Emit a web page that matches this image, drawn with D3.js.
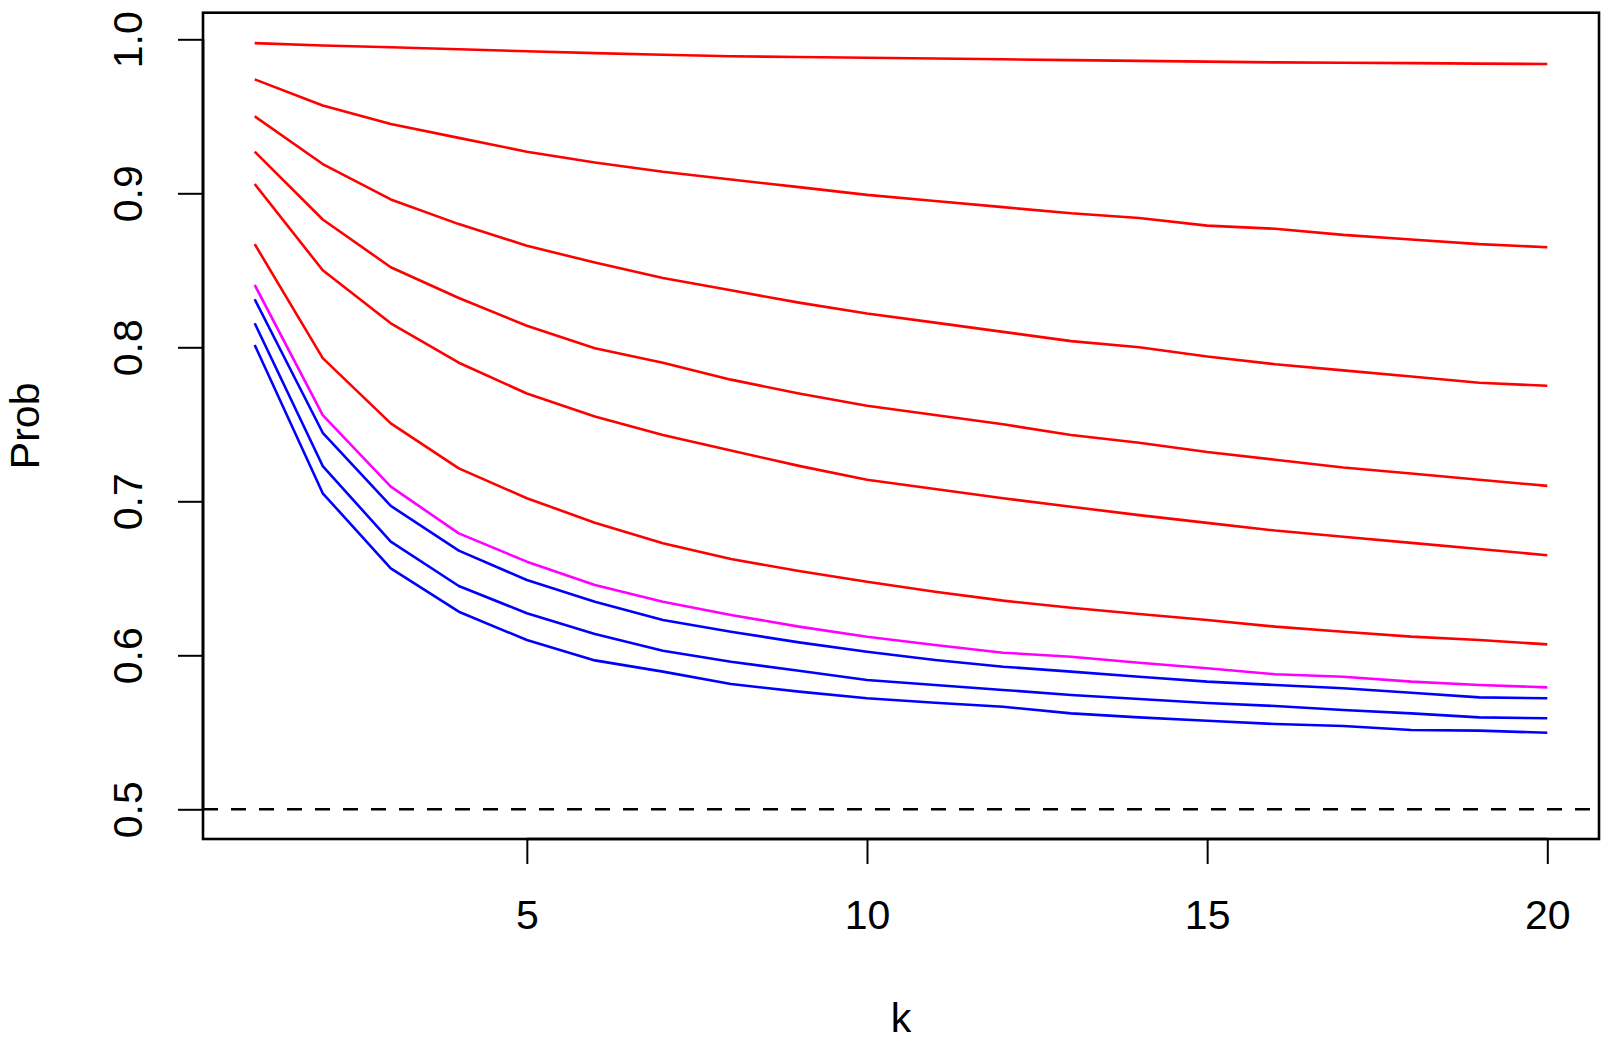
<!DOCTYPE html>
<html>
<head>
<meta charset="utf-8">
<script src="https://cdn.jsdelivr.net/npm/d3@7"></script>
<style>
  html, body { margin: 0; padding: 0; background: #fff; }
  svg { display: block; }
  text { font-family: "Liberation Sans", Arial, Helvetica, sans-serif; fill: #000; }
</style>
</head>
<body>
<svg id="chart" width="1620" height="1054"></svg>
<script>
// ---- data ----
const kValues = [1,2,3,4,5,6,7,8,9,10,11,12,13,14,15,16,17,18,19,20];
const xTicks = [5, 10, 15, 20];
const yTicks = [0.5, 0.6, 0.7, 0.8, 0.9, 1.0];
const yTickLabels = ["0.5", "0.6", "0.7", "0.8", "0.9", "1.0"];
const refLine = 0.5;
const xLabel = "k";
const yLabel = "Prob";

const red1 = [0.9975,0.996,0.9948,0.9935,0.9922,0.991,0.990,0.989,0.9885,0.988,0.9875,0.987,0.9865,0.986,0.9855,0.985,0.9848,0.9845,0.9842,0.984];
const red2 = [0.974,0.957,0.945,0.936,0.927,0.920,0.914,0.909,0.904,0.899,0.895,0.891,0.887,0.884,0.879,0.877,0.873,0.870,0.867,0.865];
const red3 = [0.950,0.919,0.896,0.880,0.866,0.855,0.845,0.837,0.829,0.822,0.816,0.810,0.804,0.800,0.794,0.789,0.785,0.781,0.777,0.775];
const red4 = [0.927,0.883,0.852,0.832,0.814,0.7994,0.790,0.779,0.770,0.762,0.756,0.750,0.743,0.738,0.732,0.727,0.722,0.718,0.714,0.710];
const red5 = [0.906,0.850,0.8156,0.790,0.770,0.755,0.743,0.733,0.723,0.714,0.708,0.702,0.6965,0.691,0.686,0.681,0.677,0.673,0.669,0.665];
const red6 = [0.867,0.793,0.7506,0.7214,0.702,0.6861,0.6727,0.6625,0.6547,0.6478,0.6413,0.6355,0.6309,0.6268,0.6229,0.6186,0.6153,0.6121,0.6099,0.6071];
const magenta1 = [0.8405,0.756,0.7095,0.6792,0.6608,0.6457,0.6348,0.6262,0.6186,0.6121,0.6067,0.6017,0.5991,0.5952,0.5916,0.5877,0.5861,0.5829,0.5807,0.5792];
const blue1 = [0.8312,0.7445,0.697,0.668,0.6489,0.6348,0.6229,0.6153,0.6084,0.6023,0.597,0.5926,0.5894,0.5861,0.5829,0.5807,0.5786,0.5757,0.5727,0.5721];
const blue2 = [0.8156,0.7229,0.6738,0.645,0.6273,0.6138,0.603,0.5958,0.590,0.584,0.5807,0.5775,0.5742,0.5716,0.569,0.5671,0.5645,0.5623,0.5597,0.5591];
const blue3 = [0.8015,0.7052,0.6565,0.6283,0.6099,0.5967,0.5894,0.5814,0.5764,0.5721,0.5692,0.5666,0.5623,0.5597,0.5575,0.5554,0.5541,0.5515,0.5511,0.5497];

const seriesList = [
  {values: red1, color: "#ff0000"},
  {values: red2, color: "#ff0000"},
  {values: red3, color: "#ff0000"},
  {values: red4, color: "#ff0000"},
  {values: red5, color: "#ff0000"},
  {values: red6, color: "#ff0000"},
  {values: magenta1, color: "#ff00ff"},
  {values: blue1, color: "#0000ff"},
  {values: blue2, color: "#0000ff"},
  {values: blue3, color: "#0000ff"}
];

// ---- layout ----
const box = {left: 203, right: 1599, top: 12.7, bottom: 839};
const svg = d3.select("#chart");

// R-style: 4% extension of data range on each side
const xMin = d3.min(kValues), xMax = d3.max(kValues);
const xPad = (xMax - xMin) * 0.04;
const x = d3.scaleLinear().domain([xMin - xPad, xMax + xPad]).range([box.left, box.right]);

const y = d3.scaleLinear().domain([0.5, 1.0]).range([809.3, 39.3]);

const line = d3.line().x((d, i) => x(kValues[i])).y(d => y(d));

// data lines
svg.append("g").selectAll("path").data(seriesList).join("path")
  .attr("d", s => line(s.values))
  .attr("fill", "none")
  .attr("stroke", s => s.color)
  .attr("stroke-width", 2.6)
  .attr("stroke-linejoin", "round");

// dashed reference line
svg.append("line")
  .attr("x1", box.left).attr("x2", box.right)
  .attr("y1", y(refLine)).attr("y2", y(refLine))
  .attr("stroke", "#000").attr("stroke-width", 2.6)
  .attr("stroke-dasharray", "15,13");

// box
svg.append("rect")
  .attr("x", box.left).attr("y", box.top)
  .attr("width", box.right - box.left).attr("height", box.bottom - box.top)
  .attr("fill", "none").attr("stroke", "#000").attr("stroke-width", 2.6);

// x axis
const xAxis = d3.axisBottom(x).tickValues(xTicks).tickSize(25).tickPadding(36).tickFormat(d3.format("d"));
const gx = svg.append("g").attr("transform", `translate(0,${box.bottom})`).call(xAxis);
gx.select(".domain")
  .attr("d", `M${x(xTicks[0])},0H${x(xTicks[xTicks.length-1])}`)
  .attr("stroke", "#000").attr("stroke-width", 2.6);
gx.selectAll(".tick line").attr("stroke", "#000").attr("stroke-width", 2);
gx.selectAll(".tick text").attr("font-size", 41).attr("fill", "#000")
  .attr("font-family", "Liberation Sans, Arial, sans-serif");

// y axis
const yAxis = d3.axisLeft(y).tickValues(yTicks).tickSize(25).tickFormat((d, i) => yTickLabels[i]);
const gy = svg.append("g").attr("transform", `translate(${box.left},0)`).call(yAxis);
gy.select(".domain")
  .attr("d", `M0,${y(yTicks[0])}V${y(yTicks[yTicks.length-1])}`)
  .attr("stroke", "#000").attr("stroke-width", 2.6);
gy.selectAll(".tick line").attr("stroke", "#000").attr("stroke-width", 2);
gy.selectAll(".tick text")
  .attr("font-size", 41).attr("fill", "#000")
  .attr("font-family", "Liberation Sans, Arial, sans-serif")
  .attr("x", null).attr("dy", null)
  .attr("text-anchor", "middle")
  .attr("transform", `translate(${142 - box.left},0) rotate(-90)`);

// axis titles
svg.append("text")
  .attr("x", (box.left + box.right) / 2).attr("y", 1032)
  .attr("text-anchor", "middle").attr("font-size", 41)
  .text(xLabel);
svg.append("text")
  .attr("transform", `translate(39,${(box.top + box.bottom) / 2}) rotate(-90)`)
  .attr("text-anchor", "middle").attr("font-size", 41)
  .text(yLabel);
</script>
</body>
</html>
